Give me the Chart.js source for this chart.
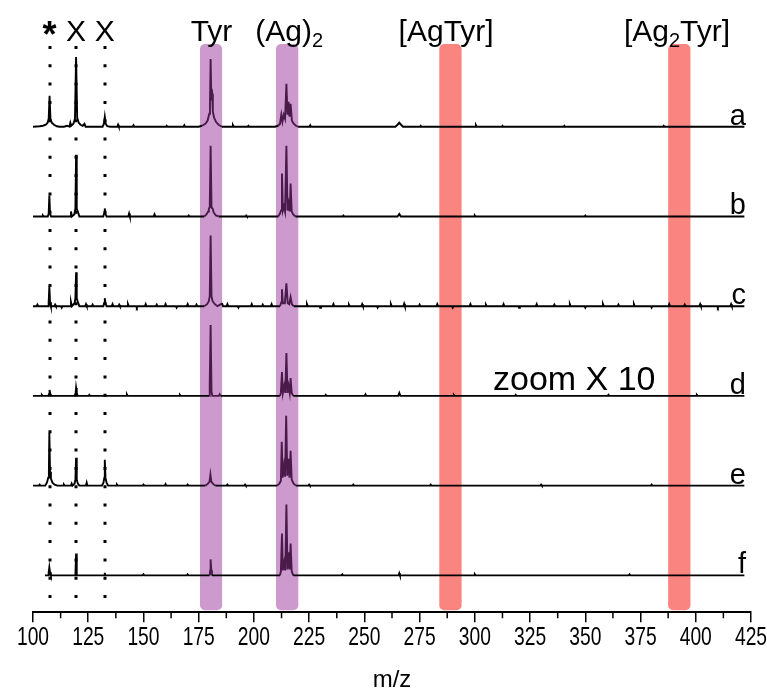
<!DOCTYPE html>
<html>
<head>
<meta charset="utf-8">
<script src="https://cdn.jsdelivr.net/npm/chart.js@4.4.0/dist/chart.umd.min.js"></script>
<style>
  html, body { margin: 0; background: #fff; }
  #wrap { width: 767px; height: 690px; position: relative; }
</style>
</head>
<body>
<div id="wrap"><canvas id="ms"></canvas></div>
<script>
// trace names and their vertical offsets (stacked spectra)
const traceNames = ['a', 'b', 'c', 'd', 'e', 'f'];
const traceOffsets = [487, 397, 307, 217, 127, 37];

// peak profiles as [m/z, intensity above own baseline]
const traceA = [
  [100,0],[103,0.5],[104.5,1],[105.8,2],[106.6,4],[107.1,8],[107.5,31],[107.9,8],[108.5,4],[109.5,2],[110.8,0.5],[112,0],
  [114,0],[115.5,1],[116.5,0],[116.9,4],[117.3,1],[118.3,3],[119,8],[119.5,70],[120,9],[120.7,4],[121.5,2],[122.5,1],[123.3,3],[123.8,0],[126,0],
  [131.5,0],[132.1,3],[132.5,10],[132.9,3],[133.6,0.5],[135,0],
  [175,0],[176.5,1],[178,3],[179,6],[179.8,13],[180.1,22],[180.4,68],[180.7,30],[181.1,33],[181.4,15],[182,9],[182.8,5],[184,2],[185.5,0],
  [209.5,0],[211,1],[211.8,3],[212.4,12],[212.9,5],[213.5,12],[214.1,8],[214.7,43],[215.2,12],[215.7,25],[216.1,10],[216.6,23],[217.2,6],[218,3],[219,1],[220,0],
  [264,0],[265,2],[265.8,4],[266.6,2],[267.5,0],
  [422,0]
];
const traceB = [
  [100,0],
  [106.7,0],[107.1,3],[107.4,21],[107.7,3],[108.2,0],
  [116.8,0],[117.2,5],[117.6,0],[118.7,2],[119.2,8],[119.5,62],[119.8,8],[120.3,5],[121,0],
  [131.8,0],[132.2,3],[132.5,8],[132.8,3],[133.3,0],
  [177.5,0],[178.5,2],[179.3,5],[179.6,8],[180,9],[180.4,71],[180.8,9],[181.3,8],[181.8,4],[182.8,1],[184,0],
  [211,0],[211.8,3],[212.3,6],[212.7,43],[213.1,6],[213.6,10],[214.1,5],[214.7,71],[215.2,6],[215.7,13],[216.2,5],[216.6,33],[217.1,5],[217.8,2],[218.8,0],
  [265,0],[265.8,2.5],[266.5,0],
  [422,0]
];
const traceC = [
  [100,0],
  [106.8,0],[107.1,4],[107.4,20],[107.7,4],[108.1,0],
  [116.8,0],[117.2,4],[117.6,0],[118.8,3],[119.2,8],[119.5,34],[119.8,8],[120.3,4],[121,0],
  [131.8,0],[132.2,3],[132.5,8],[132.8,3],[133.3,0],
  [177.5,0],[178.8,2],[179.6,5],[180,10],[180.4,71],[180.8,10],[181.3,5],[182.3,2],[183.5,0],[185,2],[185.5,3],[186,0],
  [211.8,0],[212.4,4],[212.7,17],[213.1,3],[214,3],[214.7,23],[215.3,3],[216,2],[216.6,9],[217.2,2],[218,0],
  [422,0]
];
const traceD = [
  [100,0],
  [106.9,0],[107.3,2],[107.5,6],[107.8,2],[108.2,0],
  [118.9,0],[119.3,3],[119.5,8],[119.8,3],[120.2,0],
  [179.8,0],[180,13],[180.4,71],[180.8,4],[181.2,0],
  [211.8,0],[212.2,3],[212.7,24],[213.1,3],[213.7,10],[214.2,3],[214.7,43],[215.2,3],[215.7,10],[216.2,3],[216.6,18],[217.1,3],[217.8,0],
  [265.3,0],[265.8,3],[266.3,0],
  [422,0]
];
const traceE = [
  [100,0],[105.5,0],[106.3,3],[106.9,8],[107.2,14],[107.4,53],[107.7,14],[108.1,7],[108.8,3],[109.8,1],[111,0],
  [118,0],[118.8,2],[119.2,6],[119.5,28],[119.8,6],[120.3,2],[121,0],
  [131.2,0],[131.9,3],[132.3,8],[132.5,26],[132.8,8],[133.3,3],[134,0],
  [178,0],[179.2,2],[179.9,4],[180.3,11],[180.7,4],[181.4,2],[182.5,0],
  [210.5,0],[211.5,2],[212.2,5],[212.6,44],[213,8],[213.6,20],[214.1,9],[214.6,70],[215.1,10],[215.7,27],[216.1,8],[216.6,35],[217.1,6],[218,2],[219,0],
  [422,0]
];
const traceF = [
  [105.4,0],[106.8,0],[107.1,3],[107.4,8],[107.7,3],[108.1,0],
  [119.2,0],[119.5,22],[119.8,0],
  [132.3,0],[132.5,2.5],[132.7,0],
  [180,0],[180.2,5],[180.4,16],[180.7,5],[181,0],
  [211.8,0],[212.2,4],[212.7,42],[213.1,5],[213.7,13],[214.2,5],[214.7,71],[215.2,6],[215.7,23],[216.2,6],[216.6,32],[217.1,4],[217.8,0],
  [265.5,0],[265.8,2],[266.1,0],
  [422,0]
];

// small baseline spikes [m/z, height]
const noiseA = [[138.5,2],[145.5,1.5],[160.5,1],[168.5,1.5],[190.5,1.5],[197.5,1],[225.5,1.5],[275.5,1],[300.5,1.5],[312.5,1],[340.5,1],[385.5,1]];
const noiseB = [[104.5,1],[143.5,3],[155,2],[170.5,1],[196.5,1],[240.5,1],[300,1],[350,1]];
const noiseC = [[102,1.5],[110,1.5],[113,-1.5],[124,2],[127,1.5],[136,2],[139,1.5],[143,2],[147,-1.5],[151,2],[156,1.5],[160,2],
  [165,-1.5],[170,2],[174,1.5],[188,2],[193,-1.5],[199,2],[204,1.5],[208,2],[224,2],[230,-1.5],[236,2],[243,1.5],[249,2],
  [256,-1.5],[262,2],[268,2.5],[275,1.5],[283,2],[290,-1.5],[298,2],[305,1.5],[313,2],[320,-1.5],[328,2],[336,1.5],[343,2],
  [350,-1.5],[358,2],[365,1.5],[372,2],[380,-1.5],[388,2],[395,1.5],[402,2],[410,-1.5],[416,2]];
const noiseD = [[104,1],[125.5,1],[142.5,1.5],[166.5,1],[184.5,1.5],[232.5,1],[250.5,1.5],[290.5,1],[318.5,1],[360.5,1],[400.5,1]];
const noiseE = [[103,1],[114,1],[117.5,2],[124.3,3],[138,1],[150,1],[160,1.5],[170,1],[188,1],[196,1],[225,1],[245,1],[280,1],[330,1],[380,1]];
const noiseF = [[150,1],[170,1],[240,1],[300,1],[370,1]];

const profiles = [traceA, traceB, traceC, traceD, traceE, traceF];
const noises = [noiseA, noiseB, noiseC, noiseD, noiseE, noiseF];

// highlighted m/z windows: [from, to, colour]
const bands = [
  [175.6, 185.6, '#cc9acc'],
  [210.0, 220.1, '#cc9acc'],
  [283.9, 294.0, '#fa8580'],
  [387.5, 397.6, '#fa8580']
];
const inBandTrace = '#4a1b4a';

// dotted marker lines and top annotations
const markerLines = [107.5, 119.5, 132.5];
const topLabels = [
  { x: 107.5, parts: [['*', 0]], bold: true },
  { x: 119.5, parts: [['X', 0]] },
  { x: 132.5, parts: [['X', 0]] },
  { x: 180.8, parts: [['Tyr', 0]] },
  { x: 216.0, parts: [['(Ag)', 0], ['2', 1]] },
  { x: 287.0, parts: [['[AgTyr]', 0]] },
  { x: 391.5, parts: [['[Ag', 0], ['2', 1], ['Tyr]', 0]] }
];
const zoomNote = { text: 'zoom X 10', x: 345, trace: 3 };

const xMin = 100, xMax = 425, xStep = 25;

const FONT = "'Liberation Sans', Arial, sans-serif";

function withNoise(profile, noise) {
  const pts = profile.slice();
  noise.forEach(([x, h]) => pts.push([x - 0.35, 0], [x, h], [x + 0.35, 0]));
  return pts.sort((p, q) => p[0] - q[0]);
}

function inPurple(x0, x1) {
  return bands.some(b => b[2] === '#cc9acc' && x0 >= b[0] && x1 <= b[1]);
}

const datasets = profiles.map((pr, i) => ({
  label: traceNames[i],
  data: withNoise(pr, noises[i]).map(([x, y]) => ({ x: x, y: y + traceOffsets[i] })),
  borderColor: '#000',
  borderWidth: 1.9,
  pointRadius: 0,
  tension: 0,
  fill: false,
  segment: {
    borderColor: ctx => inPurple(ctx.p0.parsed.x, ctx.p1.parsed.x) ? inBandTrace : '#000'
  }
}));

const bandPlugin = {
  id: 'bands',
  beforeDatasetsDraw(chart) {
    const { ctx, chartArea, scales: { x } } = chart;
    ctx.save();
    bands.forEach(([a, b, c]) => {
      const x0 = x.getPixelForValue(a), x1 = x.getPixelForValue(b);
      ctx.fillStyle = c;
      ctx.beginPath();
      ctx.roundRect(x0, chartArea.top, x1 - x0, chartArea.bottom - chartArea.top - 2, 5);
      ctx.fill();
    });
    ctx.restore();
  }
};

const overlayPlugin = {
  id: 'overlay',
  afterDatasetsDraw(chart) {
    const { ctx, chartArea, scales: { x, y } } = chart;
    ctx.save();
    // dotted marker lines
    ctx.strokeStyle = '#000';
    ctx.lineWidth = 3;
    ctx.setLineDash([3, 15.3]);
    markerLines.forEach(m => {
      const px = Math.round(x.getPixelForValue(m));
      ctx.beginPath();
      ctx.moveTo(px, chartArea.top + 2);
      ctx.lineTo(px, chartArea.bottom - 12);
      ctx.stroke();
    });
    ctx.setLineDash([]);

    // trace letters
    ctx.fillStyle = '#000';
    ctx.font = '29px ' + FONT;
    ctx.textAlign = 'right';
    ctx.textBaseline = 'alphabetic';
    traceNames.forEach((n, i) => {
      ctx.fillText(n, chartArea.right - 5, y.getPixelForValue(traceOffsets[i]) - 2);
    });

    // zoom note
    ctx.font = '34px ' + FONT;
    ctx.textAlign = 'center';
    ctx.fillText(zoomNote.text, x.getPixelForValue(zoomNote.x), y.getPixelForValue(traceOffsets[zoomNote.trace]) - 6);

    // top labels with subscripts
    ctx.textAlign = 'left';
    topLabels.forEach(l => {
      const fonts = l.parts.map(p => (l.bold ? 'bold 36px ' : (p[1] ? '20px ' : '30px ')) + FONT);
      let w = 0;
      l.parts.forEach((p, k) => { ctx.font = fonts[k]; w += ctx.measureText(p[0]).width; });
      let cx = x.getPixelForValue(l.x) - w / 2;
      const base = l.bold ? 47 : 41;
      l.parts.forEach((p, k) => {
        ctx.font = fonts[k];
        ctx.fillText(p[0], cx, base + (p[1] ? 6 : 0));
        cx += ctx.measureText(p[0]).width;
      });
    });
    ctx.restore();
  },
  afterDraw(chart) {
    const { ctx, chartArea, scales: { x } } = chart;
    ctx.save();
    // minor ticks between the labelled ones
    ctx.strokeStyle = '#000';
    ctx.lineWidth = 1.5;
    for (let v = xMin + xStep / 2; v < xMax; v += xStep) {
      const px = x.getPixelForValue(v);
      ctx.beginPath();
      ctx.moveTo(px, chartArea.bottom);
      ctx.lineTo(px, chartArea.bottom + 6);
      ctx.stroke();
    }
    // condensed tick labels, taken from the scale's own ticks
    ctx.fillStyle = '#000';
    ctx.font = '26px ' + FONT;
    ctx.textAlign = 'center';
    ctx.textBaseline = 'middle';
    x.ticks.forEach(t => {
      ctx.save();
      ctx.translate(x.getPixelForValue(t.value), chartArea.bottom + 26);
      ctx.scale(0.74, 1);
      ctx.fillText(String(t.value), 0, 0);
      ctx.restore();
    });
    ctx.restore();
  }
};

new Chart(document.getElementById('ms'), {
  type: 'line',
  data: { datasets: datasets },
  options: {
    responsive: true,
    maintainAspectRatio: false,
    animation: false,
    layout: { padding: { top: 44, left: 33, right: 16, bottom: 0 } },
    plugins: { legend: { display: false }, tooltip: { enabled: false } },
    scales: {
      x: {
        type: 'linear',
        min: xMin,
        max: xMax,
        afterFit(scale) { scale.paddingLeft = 0; scale.paddingRight = 0; },
        ticks: {
          stepSize: xStep,
          color: 'rgba(0,0,0,0)',
          font: { family: FONT, size: 23 },
          maxRotation: 0,
          padding: 2
        },
        grid: { drawOnChartArea: false, drawTicks: true, tickLength: 10, color: '#000', lineWidth: 1.5 },
        border: { display: true, color: '#000', width: 2 },
        title: { display: true, text: 'm/z', color: '#000', font: { family: FONT, size: 24, lineHeight: 0.84 }, padding: { top: 16, bottom: 0 } }
      },
      y: {
        display: false,
        min: 0,
        max: 570
      }
    }
  },
  plugins: [bandPlugin, overlayPlugin]
});
</script>
</body>
</html>
